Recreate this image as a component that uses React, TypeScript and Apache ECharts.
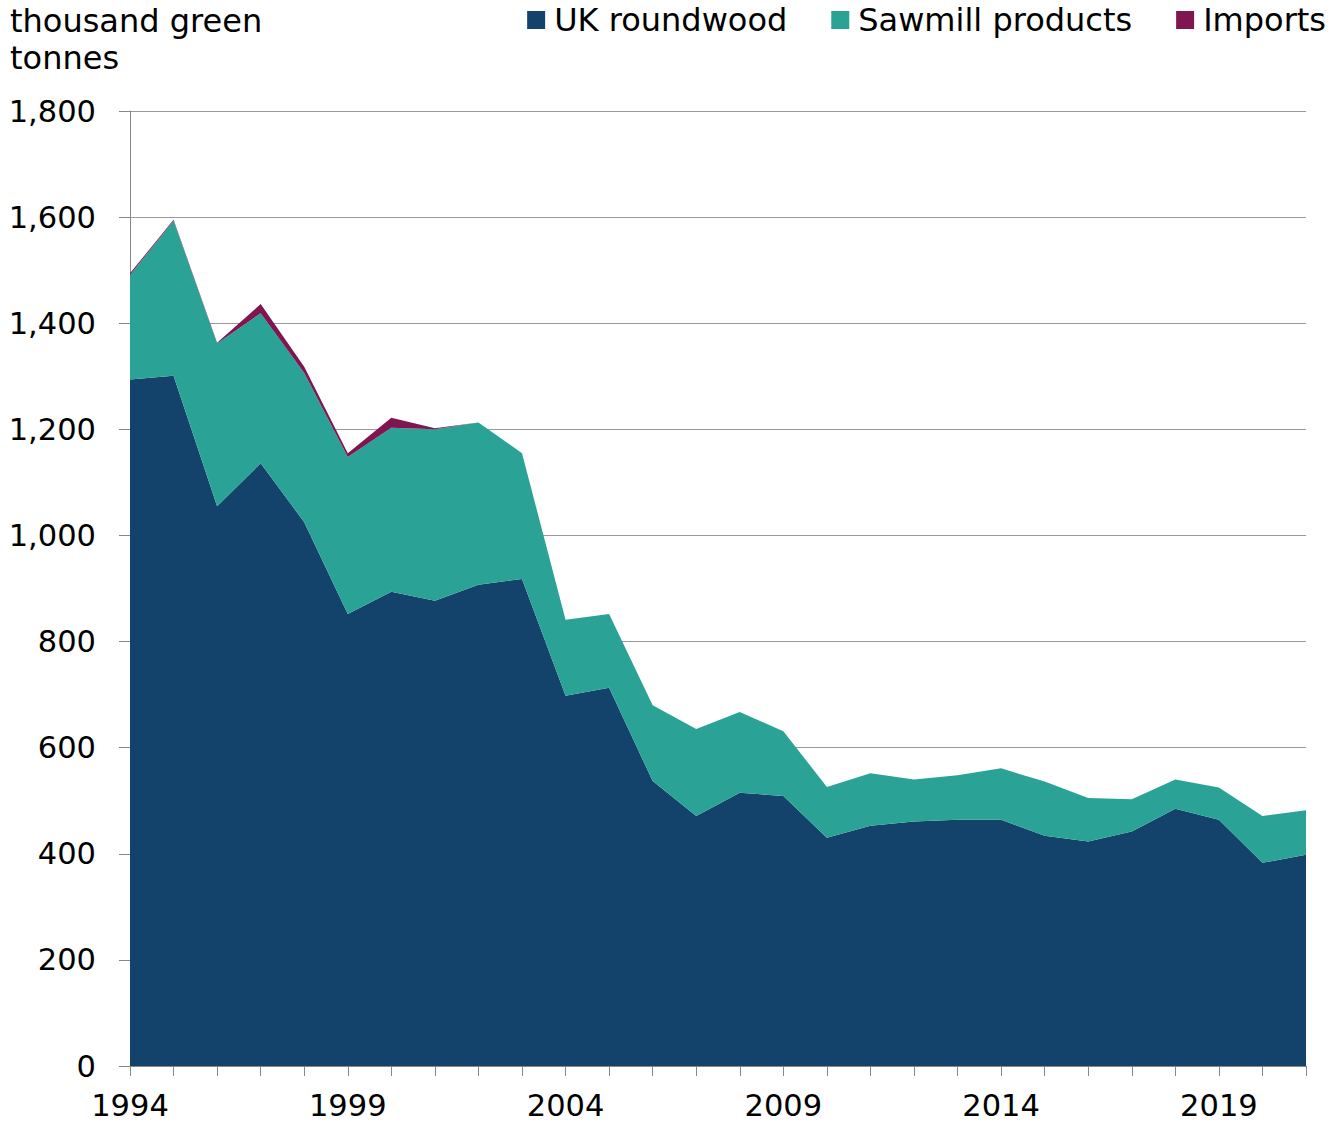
import React, { useEffect, useRef } from "react";
import * as echarts from "echarts";

const years = [
  "1994","1995","1996","1997","1998","1999","2000","2001","2002","2003",
  "2004","2005","2006","2007","2008","2009","2010","2011","2012","2013",
  "2014","2015","2016","2017","2018","2019","2020","2021",
];
const ukRoundwood = [1294,1301,1055,1136,1025,852,894,877,907,918,698,713,537,471,515,509,430,453,461,464,464,434,423,442,485,464,383,398];
const sawmillProducts = [197,292,307,283,281,296,309,323,306,237,143,139,143,164,152,122,96,99,79,84,97,102,82,61,55,61,88,84];
const imports = [3,2,1,17,12,7,19,2,0,0,0,0,0,0,0,0,0,0,0,0,0,0,0,0,0,0,0,0];
const yTicks = { min: 0, max: 1800, interval: 200 };

const FONT = "'DejaVu Sans', Verdana, sans-serif";
const COLORS = { uk: "#13436B", saw: "#2AA396", imp: "#7F1650" };

export default function App() {
  const ref = useRef<HTMLDivElement>(null);
  useEffect(() => {
    if (!ref.current) return;
    const chart = echarts.init(ref.current, undefined, { renderer: "svg" });
    const mk = (name: string, data: number[], color: string) => ({
      name,
      type: "line",
      stack: "total",
      data,
      symbol: "none",
      showSymbol: false,
      lineStyle: { width: 0 },
      itemStyle: { color },
      areaStyle: { color, opacity: 1 },
    });
    chart.setOption({
      animation: false,
      textStyle: { fontFamily: FONT },
      title: {
        text: "thousand green\ntonnes",
        left: 10,
        top: 2,
        padding: 0,
        textStyle: { fontFamily: FONT, fontSize: 32, fontWeight: "normal", color: "#000", lineHeight: 37 },
      },
      legend: {
        right: 4,
        top: 4,
        padding: 0,
        itemWidth: 18,
        itemHeight: 18,
        itemGap: 44,
        icon: "rect",
        textStyle: { fontFamily: FONT, fontSize: 32, color: "#000", padding: [0, 0, 0, 4] },
        data: ["UK roundwood", "Sawmill products", "Imports"],
      },
      grid: { left: 130, right: 24, top: 111, bottom: 62, containLabel: false },
      xAxis: {
        type: "category",
        data: years,
        boundaryGap: false,
        axisLine: { show: true, lineStyle: { color: "#888", width: 1 } },
        axisTick: { show: true, interval: 0, length: 10, lineStyle: { color: "#888" } },
        axisLabel: { interval: 4, fontFamily: FONT, fontSize: 30.5, color: "#000", margin: 24 },
        splitLine: { show: false },
      },
      yAxis: {
        type: "value",
        min: yTicks.min,
        max: yTicks.max,
        interval: yTicks.interval,
        axisLine: { show: true, lineStyle: { color: "#888", width: 1 } },
        axisTick: { show: true, length: 11, lineStyle: { color: "#888" } },
        axisLabel: {
          fontFamily: FONT,
          fontSize: 30.5,
          color: "#000",
          margin: 34,
          formatter: (v: number) => v.toLocaleString("en-US"),
        },
        splitLine: { show: true, lineStyle: { color: "#999", width: 1 } },
      },
      series: [
        mk("UK roundwood", ukRoundwood, COLORS.uk),
        mk("Sawmill products", sawmillProducts, COLORS.saw),
        mk("Imports", imports, COLORS.imp),
      ],
    });
    return () => chart.dispose();
  }, []);
  return <div ref={ref} style={{ position: "absolute", left: 0, top: 0, width: 1330, height: 1128 }} />;
}
